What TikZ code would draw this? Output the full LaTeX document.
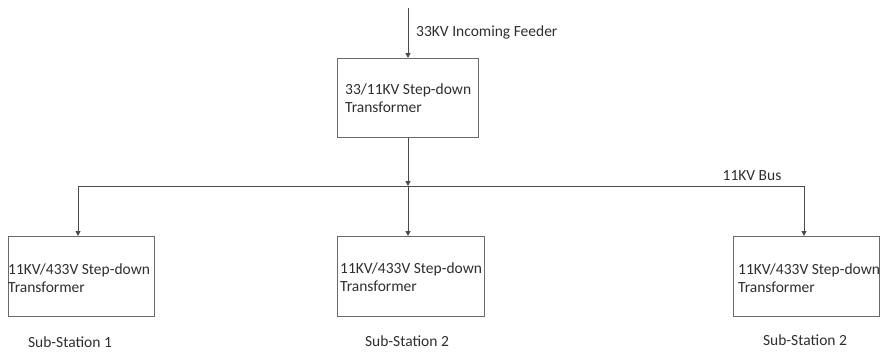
\documentclass[tikz,border=0pt]{standalone}
\usepackage{fontspec}
\setmainfont{Carlito}
\usetikzlibrary{arrows.meta}
\definecolor{linegray}{HTML}{4A4A4A}
\definecolor{boxgray}{HTML}{6A6A6A}
\definecolor{textgray}{HTML}{2E2E2E}
\tikzset{
  boxnode/.style={draw=boxgray, line width=0.9pt, anchor=north west, inner sep=0pt},
  txt/.style={text=textgray, font=\fontsize{15.5}{18}\selectfont, inner sep=0pt},
  feed/.style={draw=linegray, line width=1pt, -{Triangle[length=5pt,width=5pt]}},
  bus/.style={draw=linegray, line width=1pt}
}
\begin{document}
\begin{tikzpicture}[x=1pt,y=-1pt]
\useasboundingbox (0,0) rectangle (882,351);
% transformer boxes
\node[boxnode, minimum width=141pt, minimum height=79pt] (main) at (337,58) {};
\node[boxnode, minimum width=146pt, minimum height=80pt] (ss1) at (8,236) {};
\node[boxnode, minimum width=147pt, minimum height=80pt] (ss2) at (337,236) {};
\node[boxnode, minimum width=146pt, minimum height=80pt] (ss3) at (733,236) {};
% box texts
\node[txt, anchor=west, align=left] (tmain) at (345,98) {33/11KV Step-down\\Transformer};
\node[txt, anchor=west, align=left] (tss1) at (8,278) {11KV/433V Step-down\\Transformer};
\node[txt, anchor=west, align=left] (tss2) at (340,277) {11KV/433V Step-down\\Transformer};
\node[txt, anchor=west, align=left] (tss3) at (738,278) {11KV/433V Step-down\\Transformer};
% captions
\node[txt] (cap1) at (70,342) {Sub-Station 1};
\node[txt] (cap2) at (407,341) {Sub-Station 2};
\node[txt] (cap3) at (805,340) {Sub-Station 2};
\node[txt, anchor=west] (feedlbl) at (416,32) {33KV Incoming Feeder};
\node[txt] (buslbl) at (752,176) {11KV Bus};
% bus and feeders
\coordinate (src) at (408,8);
\coordinate (junc) at (408,186);
\coordinate (busL) at (78,186);
\coordinate (busR) at (804,186);
\draw[feed] (src) -- (main.north -| src);
\draw[feed] (main.south -| junc) -- (junc);
\draw[bus] (busL) -- (busR);
\draw[feed] (junc) -- (ss2.north -| junc);
\draw[feed] (busL) -- (ss1.north -| busL);
\draw[feed] (busR) -- (ss3.north -| busR);
\end{tikzpicture}
\end{document}
